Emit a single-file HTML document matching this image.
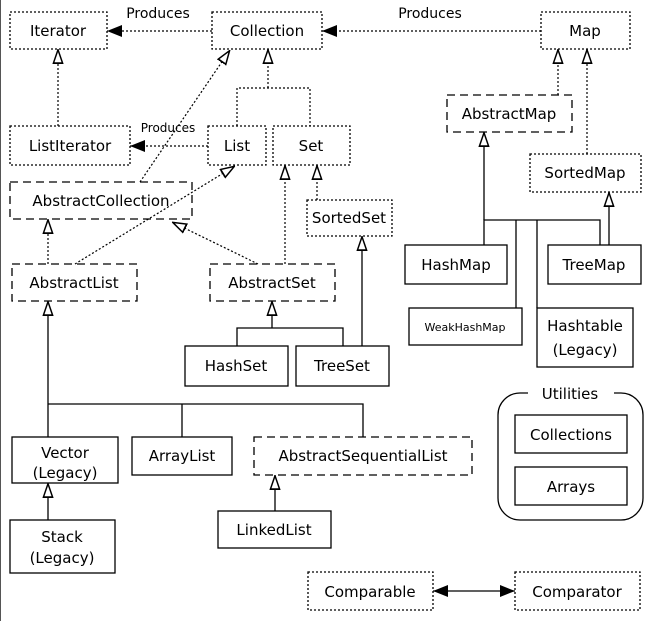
<!DOCTYPE html>
<html><head><style>body{margin:0;background:#fff}svg{display:block}</style></head><body>
<svg width="663" height="621" viewBox="0 0 663 621" xmlns="http://www.w3.org/2000/svg" font-family="DejaVu Sans, sans-serif" font-size="15" fill="none" stroke="#000">
<defs>
<marker id="h" viewBox="0 0 10 10" preserveAspectRatio="none" refX="10" refY="5" markerWidth="15" markerHeight="11" orient="auto-start-reverse" markerUnits="userSpaceOnUse"><path d="M0.5,0.8 L9.5,5 L0.5,9.2 Z" fill="#fff" stroke="#000" stroke-width="1.3"/></marker>
<marker id="f" viewBox="0 0 10 10" preserveAspectRatio="none" refX="10" refY="5" markerWidth="15" markerHeight="12" orient="auto-start-reverse" markerUnits="userSpaceOnUse"><path d="M0,0 L10,5 L0,10 Z" fill="#000" stroke="none"/></marker>
</defs>
<line x1="0.5" y1="0" x2="0.5" y2="621" stroke="#555"/>
<g stroke-width="1.3">
<g stroke-dasharray="2,2">
<rect x="10" y="12" width="97" height="37"/>
<rect x="212" y="12" width="110" height="37"/>
<rect x="541" y="12" width="89" height="37"/>
<rect x="10" y="126" width="120" height="39"/>
<rect x="208" y="126" width="58" height="39"/>
<rect x="273" y="126" width="77" height="39"/>
<rect x="307" y="200" width="85" height="36"/>
<rect x="530" y="154" width="111" height="38"/>
<rect x="308" y="572" width="125" height="38"/>
<rect x="515" y="572" width="125" height="38"/>
</g>
<g stroke-dasharray="8,5">
<rect x="10" y="182" width="182" height="37"/>
<rect x="12" y="264" width="125" height="37"/>
<rect x="210" y="264" width="125" height="37"/>
<rect x="447" y="95" width="125" height="37"/>
<rect x="254" y="437" width="218" height="38"/>
</g>
<rect x="405" y="245" width="102" height="39"/>
<rect x="548" y="245" width="93" height="39"/>
<rect x="409" y="308" width="113" height="37"/>
<rect x="537" y="308" width="96" height="59"/>
<rect x="185" y="346" width="103" height="40"/>
<rect x="296" y="346" width="93" height="40"/>
<rect x="12" y="437" width="106" height="46"/>
<rect x="10" y="520" width="105" height="53"/>
<rect x="132" y="437" width="100" height="38"/>
<rect x="218" y="511" width="113" height="37"/>
<rect x="498" y="393" width="145" height="127" rx="22"/>
<rect x="515" y="415" width="112" height="38"/>
<rect x="515" y="467" width="112" height="38"/>
</g>
<line x1="528" y1="393" x2="614" y2="393" stroke="#fff" stroke-width="4"/>
<g stroke-dasharray="2,2" stroke-width="1.2">
<path d="M58 126 V49" marker-end="url(#h)"/>
<path d="M268 88 V49" marker-end="url(#h)"/>
<path d="M237 126 V88 H310 V126"/>
<path d="M285 264 V165" marker-end="url(#h)"/>
<path d="M317 200 V165" marker-end="url(#h)"/>
<path d="M48 264 V219" marker-end="url(#h)"/>
<path d="M75 264 L235 166" marker-end="url(#h)"/>
<path d="M258 264 L172 222" marker-end="url(#h)"/>
<path d="M140 182 L230 50" marker-end="url(#h)"/>
<path d="M558 95 V49" marker-end="url(#h)"/>
<path d="M587 154 V49" marker-end="url(#h)"/>
<path d="M212 31 H107" marker-end="url(#f)"/>
<path d="M208 146 H130" marker-end="url(#f)"/>
<path d="M541 31 H322" marker-end="url(#f)"/>
</g>
<g stroke-width="1.3">
<path d="M48 437 V301" marker-end="url(#h)"/>
<path d="M48 404 H363 V437 M182 404 V437"/>
<path d="M48 520 V483" marker-end="url(#h)"/>
<path d="M275 511 V475" marker-end="url(#h)"/>
<path d="M272 328 V301" marker-end="url(#h)"/>
<path d="M237 346 V328 H343 V346"/>
<path d="M362 346 V236" marker-end="url(#h)"/>
<path d="M484 220 V132" marker-end="url(#h)"/>
<path d="M484 245 V220 H600 V245 M516 220 V308 M537 220 V308"/>
<path d="M609 245 V192" marker-end="url(#h)"/>
<path d="M433 591 H515" marker-start="url(#f)" marker-end="url(#f)"/>
</g>
<g fill="#000" stroke="none" text-anchor="middle">
<text x="58" y="36">Iterator</text>
<text x="267" y="36">Collection</text>
<text x="585" y="36">Map</text>
<text x="158" y="18" font-size="14">Produces</text>
<text x="430" y="18" font-size="14">Produces</text>
<text x="168" y="132" font-size="12">Produces</text>
<text x="70" y="151">ListIterator</text>
<text x="237" y="151">List</text>
<text x="311" y="151">Set</text>
<text x="101" y="206">AbstractCollection</text>
<text x="349" y="223">SortedSet</text>
<text x="74" y="288">AbstractList</text>
<text x="272" y="288">AbstractSet</text>
<text x="509" y="119">AbstractMap</text>
<text x="585" y="178">SortedMap</text>
<text x="456" y="270">HashMap</text>
<text x="594" y="270">TreeMap</text>
<text x="465" y="331" font-size="11">WeakHashMap</text>
<text x="585" y="331">Hashtable</text>
<text x="585" y="355">(Legacy)</text>
<text x="236" y="371">HashSet</text>
<text x="342" y="371">TreeSet</text>
<text x="570" y="399">Utilities</text>
<text x="571" y="440">Collections</text>
<text x="571" y="492">Arrays</text>
<text x="65" y="458">Vector</text>
<text x="65" y="478">(Legacy)</text>
<text x="62" y="542">Stack</text>
<text x="62" y="563">(Legacy)</text>
<text x="182" y="461">ArrayList</text>
<text x="363" y="461">AbstractSequentialList</text>
<text x="274" y="535">LinkedList</text>
<text x="370" y="597">Comparable</text>
<text x="577" y="597">Comparator</text>
</g>
</svg>
</body></html>
